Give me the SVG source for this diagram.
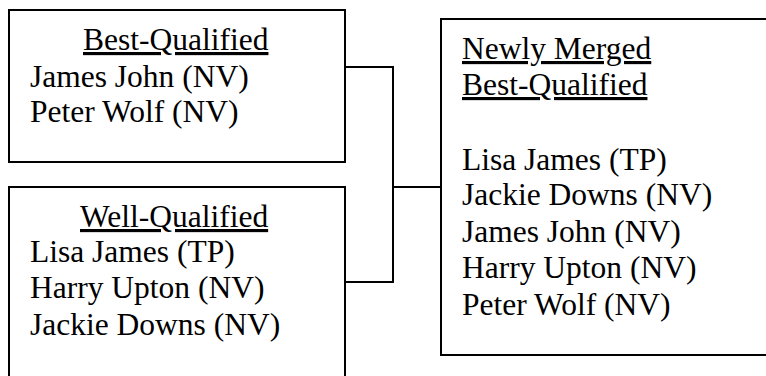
<svg xmlns="http://www.w3.org/2000/svg" width="766" height="376" viewBox="0 0 766 376">
<style>
rect{fill:#fff;stroke:#000;stroke-width:2}
text{font-family:"Liberation Serif","Times New Roman",serif;font-size:31.5px;fill:#000}
.u{text-decoration:underline}
.c{fill:none;stroke:#000;stroke-width:2}
</style>
<rect x="0" y="0" width="766" height="376" style="stroke:none"/>
<g id="connectors">
<path class="c" d="M345,67 H393 V282 H345 M393,187 H441"/>
</g>
<g id="best-qualified">
<rect x="9" y="10" width="336" height="152"/>
<text x="83" y="50" class="u">Best-Qualified</text>
<text x="30" y="87">James John (NV)</text>
<text x="30" y="122">Peter Wolf (NV)</text>
</g>
<g id="well-qualified">
<rect x="9" y="187" width="336" height="200"/>
<text x="80" y="227" class="u">Well-Qualified</text>
<text x="30" y="262">Lisa James (TP)</text>
<text x="30" y="298">Harry Upton (NV)</text>
<text x="30" y="335">Jackie Downs (NV)</text>
</g>
<g id="merged">
<rect x="441" y="19" width="340" height="336"/>
<text x="462" y="59" class="u">Newly Merged</text>
<text x="462" y="95" class="u">Best-Qualified</text>
<text x="462" y="170">Lisa James (TP)</text>
<text x="462" y="205">Jackie Downs (NV)</text>
<text x="462" y="242">James John (NV)</text>
<text x="462" y="278">Harry Upton (NV)</text>
<text x="462" y="315">Peter Wolf (NV)</text>
</g>
</svg>
